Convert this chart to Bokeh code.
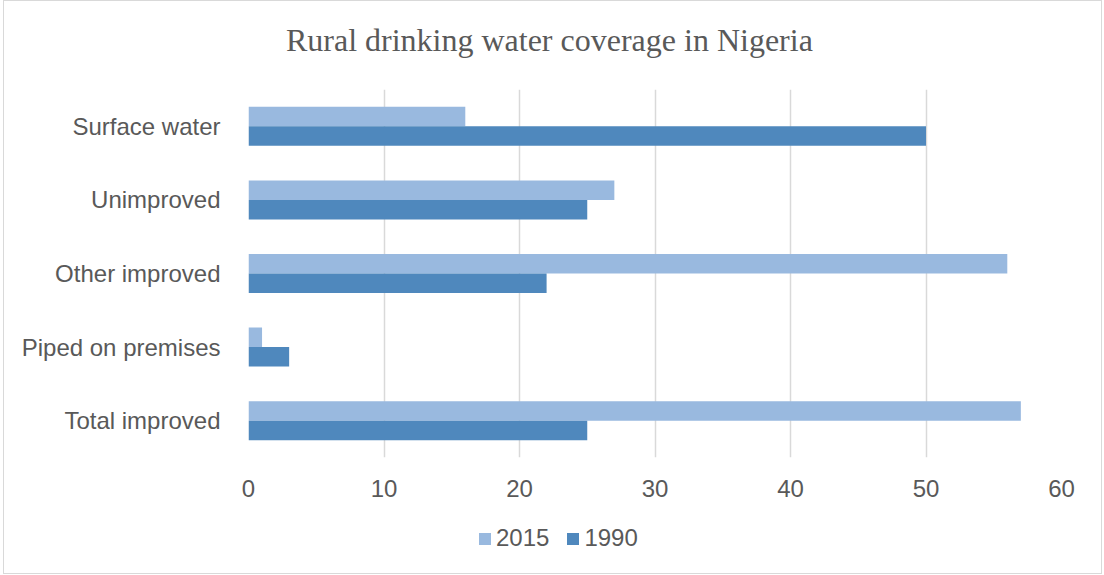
from bokeh.plotting import figure
from bokeh.models import FactorRange, Range1d, Legend, LegendItem, FixedTicker, ColumnDataSource, Label
from bokeh.layouts import column
from bokeh.transform import dodge
from bokeh.embed import file_html
from bokeh.resources import INLINE

categories = ["Surface water", "Unimproved", "Other improved", "Piped on premises", "Total improved"]
values_2015 = [16, 27, 56, 1, 57]
values_1990 = [50, 25, 22, 3, 25]
series_names = ["2015", "1990"]
x_ticks = [0, 10, 20, 30, 40, 50, 60]
title_text = "Rural  drinking water coverage in Nigeria"

C2015 = "#99b9df"
C1990 = "#4f88bd"
TXT = "#595959"
W = 1097

source = ColumnDataSource(dict(cat=categories, v2015=values_2015, v1990=values_1990))

# title strip
t = figure(width=W, height=88, output_backend="svg", toolbar_location=None,
           x_range=Range1d(0, 60), y_range=Range1d(0, 88),
           min_border_left=0, min_border_right=0, min_border_top=0, min_border_bottom=0)
t.axis.visible = False
t.grid.visible = False
t.outline_line_color = None
t.border_fill_color = "white"
t.add_layout(Label(x=22.5, y=50, text=title_text, text_align="center", text_baseline="alphabetic",
                   text_font="Liberation Serif", text_font_size="32px", text_color=TXT))

# main chart
p = figure(width=W, height=422, output_backend="svg", toolbar_location=None,
           x_range=t.x_range, y_range=FactorRange(*reversed(categories)),
           min_border_left=244, min_border_right=40, min_border_top=0, min_border_bottom=54)
p.outline_line_color = None
p.background_fill_color = "white"
p.border_fill_color = "white"

r1 = p.hbar(y=dodge("cat", 0.1325, range=p.y_range), right="v2015", left=0, height=0.265,
            color=C2015, line_color=None, source=source)
r2 = p.hbar(y=dodge("cat", -0.1325, range=p.y_range), right="v1990", left=0, height=0.265,
            color=C1990, line_color=None, source=source)

p.xgrid.grid_line_color = "#d9d9d9"
p.xgrid.grid_line_width = 1.5
p.ygrid.grid_line_color = None
p.xaxis.ticker = FixedTicker(ticks=x_ticks)

for ax in (p.xaxis[0], p.yaxis[0]):
    ax.axis_line_color = None
    ax.major_tick_line_color = None
    ax.minor_tick_line_color = None
    ax.major_tick_out = 0
    ax.minor_tick_out = 0
    ax.major_label_text_font = "Liberation Sans"
    ax.major_label_text_font_size = "24px"
    ax.major_label_text_color = TXT
p.xaxis.major_label_standoff = 22
p.yaxis.major_label_standoff = 28

# legend strip below the chart (same series, renderers hidden)
q = figure(width=W, height=62, output_backend="svg", toolbar_location=None,
           x_range=Range1d(0, 60), y_range=FactorRange(*reversed(categories)),
           min_border_left=0, min_border_right=0, min_border_top=0, min_border_bottom=0)
q.axis.visible = False
q.grid.visible = False
q.outline_line_color = None
q.border_fill_color = "white"
l1 = q.hbar(y="cat", right="v2015", left=0, height=0.5, color=C2015, line_color=None, source=source)
l2 = q.hbar(y="cat", right="v1990", left=0, height=0.5, color=C1990, line_color=None, source=source)
l1.visible = False
l2.visible = False

legend = Legend(items=[LegendItem(label=series_names[0], renderers=[l1]),
                       LegendItem(label=series_names[1], renderers=[l2])],
                location=(229, 21), orientation="horizontal",
                glyph_width=15, glyph_height=15, label_standoff=4, spacing=16,
                padding=0, margin=0, border_line_color=None, background_fill_alpha=0,
                label_text_font="Liberation Sans", label_text_font_size="24px", label_text_color=TXT)
q.add_layout(legend)

layout = column(t, p, q, spacing=0, styles={"border": "1px solid #d9d9d9", "margin-left": "3px"})

open("out.html", "w").write(file_html(layout, INLINE))
